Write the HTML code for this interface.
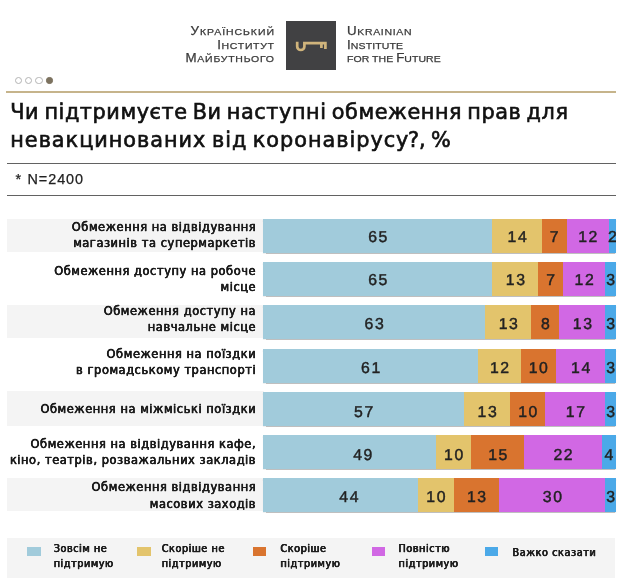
<!DOCTYPE html>
<html lang="uk"><head><meta charset="utf-8"><title>Чи підтримуєте Ви наступні обмеження прав для невакцинованих від коронавірусу?</title>
<style>
html,body{margin:0;padding:0;background:#fff;}
body{width:620px;height:578px;position:relative;overflow:hidden;font-family:"Liberation Sans","DejaVu Sans",sans-serif;color:#1a1a1a;}
.abs{position:absolute}
.logoL,.logoR{position:absolute;top:25.4px;font-family:"Liberation Sans",sans-serif;color:#3a3a3a;font-size:9.4px;line-height:13.55px;-webkit-text-stroke:0.25px #3a3a3a;white-space:nowrap}
.logoL{right:345.8px;text-align:right;transform:scaleX(1.12);transform-origin:100% 50%}
.logoR{left:346.6px;text-align:left;transform:scaleX(1.12);transform-origin:0 50%}
.logoL b,.logoR b{font-weight:400;font-size:11.9px}
.sq{position:absolute;left:286.1px;top:20.7px;width:49.5px;height:49px;background:#414143}
.dot{position:absolute;top:76.7px;width:5.5px;height:5.5px;border:1.2px solid #b4b4b4;border-radius:50%;background:#fff}
.dot.on{background:#7c725f;border-color:#7c725f;width:4.3px;height:4.3px;margin:0.6px}
.tan{position:absolute;left:6.3px;top:91px;width:609.9px;height:2px;background:#c6b48b}
h1{position:absolute;left:10.3px;top:97.5px;margin:0;font-family:"DejaVu Sans",sans-serif;font-weight:400;font-size:20.8px;line-height:28.4px;word-spacing:-2px;white-space:nowrap;color:#111;-webkit-text-stroke:0.65px #111}
.hr{position:absolute;left:6.5px;width:609.7px;height:1.2px;background:#626262}
.n{position:absolute;left:15.4px;top:170.6px;font-size:14.4px;line-height:16px;letter-spacing:0.95px;word-spacing:0.6px;color:#222;-webkit-text-stroke:0.25px #222;white-space:nowrap}
.row{position:absolute;left:6.5px;width:609.5px;height:34px}
.band{position:absolute;left:0;width:257px;background:#f4f4f4}
.lab{position:absolute;left:0;top:0;width:249.1px;height:34px;display:flex;align-items:center;justify-content:flex-end;text-align:right;font-family:"DejaVu Sans Condensed","DejaVu Sans",sans-serif;font-weight:400;font-size:12.7px;line-height:16.1px;letter-spacing:0.56px;white-space:nowrap;color:#1c1c1c;-webkit-text-stroke:0.28px #1c1c1c;text-shadow:0.25px 0 0 #1c1c1c,-0.25px 0 0 #1c1c1c}
.lab>div{position:relative;margin-right:-0.56px}
.bar{position:absolute;left:256.5px;top:0;width:353px;height:34px;display:flex;overflow:hidden;box-shadow:0 0.6px 0.8px rgba(0,0,0,0.25)}
.seg{height:100%;flex:none;display:flex;align-items:center;justify-content:center;overflow:visible}
.seg span{font-size:15.8px;letter-spacing:1.6px;margin-right:-1.6px;color:#222;position:relative;top:4.1px;white-space:nowrap;-webkit-text-stroke:0.45px #222;text-rendering:geometricPrecision}
.legend{position:absolute;left:6.5px;top:538px;width:608.7px;height:40px;background:#f4f4f4}
.sw{position:absolute;top:546.5px;width:13.5px;height:9.7px;margin-left:-0.3px}
.lt{position:absolute;top:542.1px;font-family:"DejaVu Sans Condensed","DejaVu Sans",sans-serif;font-weight:400;font-size:10.8px;line-height:14.5px;letter-spacing:0.55px;white-space:nowrap;color:#1c1c1c;-webkit-text-stroke:0.25px #1c1c1c;text-shadow:0.28px 0 0 #1c1c1c,-0.28px 0 0 #1c1c1c}
.lt.one{top:545.7px}
</style></head><body>
<div class="logoL"><div style="letter-spacing:0.84px;margin-right:-0.84px"><b>У</b>КРАЇНСЬКИЙ</div><div style="letter-spacing:0.61px;margin-right:-0.61px"><b>І</b>НСТИТУТ</div><div style="letter-spacing:0.66px;margin-right:-0.66px"><b>М</b>АЙБУТНЬОГО</div></div>
<div class="sq"><svg width="49.5" height="49" viewBox="0 0 49.5 49" style="position:absolute;left:0;top:0"><path d="M11.2 20.8 V25.4 A3.6 3.6 0 0 0 18.4 25.4 V22.1 H39.4 M39.4 20.8 V28 M35.4 22.1 V27" fill="none" stroke="#d0b47c" stroke-width="2.7"/></svg></div>
<div class="logoR"><div style="letter-spacing:0.59px"><b>U</b>KRAINIAN</div><div style="letter-spacing:0.12px"><b>I</b>NSTITUTE</div><div style="letter-spacing:0.04px">FOR THE <b>F</b>UTURE</div></div>
<div class="dot" style="left:14.6px"></div><div class="dot" style="left:24.8px"></div><div class="dot" style="left:35px"></div><div class="dot on" style="left:45.8px"></div>
<div class="tan"></div>
<h1><span style="letter-spacing:0.57px">Чи підтримуєте Ви наступні обмеження прав для</span><br><span style="letter-spacing:0.975px">невакцинованих від коронавірусу<span style="margin-left:-1.5px;letter-spacing:0.1px">?</span>,<span style="margin-left:-1.2px"> %</span></span></h1>
<div class="hr" style="top:162.7px"></div>
<div class="n">* N=2400</div>
<div class="hr" style="top:194.8px"></div>
<div class="row" style="top:218.6px"><div class="band" style="top:-0.1px;height:33.1px"></div><div class="lab"><div style="top:-0.5px">Обмеження на відвідування<br>магазинів та супермаркетів</div></div><div class="bar"><div class="seg" style="width:65%;background:#a1cbdb"><span style="top:2.1px">65</span></div><div class="seg" style="width:14%;background:#e3c46c"><span style="top:2.1px">14</span></div><div class="seg" style="width:7%;background:#d9742f"><span style="top:2.1px">7</span></div><div class="seg" style="width:12%;background:#d168e4"><span style="top:2.1px">12</span></div><div class="seg" style="width:2%;background:#4ba9e8"><span style="top:2.1px">2</span></div></div></div>
<div class="row" style="top:261.9px"><div class="lab"><div style="top:0px">Обмеження доступу на робоче<br>місце</div></div><div class="bar"><div class="seg" style="width:65%;background:#a1cbdb"><span style="top:2.1px">65</span></div><div class="seg" style="width:13%;background:#e3c46c"><span style="top:2.1px">13</span></div><div class="seg" style="width:7%;background:#d9742f"><span style="top:2.1px">7</span></div><div class="seg" style="width:12%;background:#d168e4"><span style="top:2.1px">12</span></div><div class="seg" style="width:3%;background:#4ba9e8"><span style="top:2.1px">3</span></div></div></div>
<div class="row" style="top:305.2px"><div class="band" style="top:-0.5px;height:33.3px"></div><div class="lab"><div style="top:-3.6px">Обмеження доступу на<br>навчальне місце</div></div><div class="bar"><div class="seg" style="width:63%;background:#a1cbdb"><span style="top:3.1px">63</span></div><div class="seg" style="width:13%;background:#e3c46c"><span style="top:3.1px">13</span></div><div class="seg" style="width:8%;background:#d9742f"><span style="top:3.1px">8</span></div><div class="seg" style="width:13%;background:#d168e4"><span style="top:3.1px">13</span></div><div class="seg" style="width:3%;background:#4ba9e8"><span style="top:3.1px">3</span></div></div></div>
<div class="row" style="top:348.5px"><div class="lab"><div style="top:-3.8px">Обмеження на поїздки<br>в громадському транспорті</div></div><div class="bar"><div class="seg" style="width:61%;background:#a1cbdb"><span style="top:3.1px">61</span></div><div class="seg" style="width:12%;background:#e3c46c"><span style="top:3.1px">12</span></div><div class="seg" style="width:10%;background:#d9742f"><span style="top:3.1px">10</span></div><div class="seg" style="width:14%;background:#d168e4"><span style="top:3.1px">14</span></div><div class="seg" style="width:3%;background:#4ba9e8"><span style="top:3.1px">3</span></div></div></div>
<div class="row" style="top:391.8px"><div class="band" style="top:-1.1px;height:35.2px"></div><div class="lab"><div style="top:0.2px">Обмеження на міжміські поїздки</div></div><div class="bar"><div class="seg" style="width:57%;background:#a1cbdb"><span style="top:4.1px">57</span></div><div class="seg" style="width:13%;background:#e3c46c"><span style="top:4.1px">13</span></div><div class="seg" style="width:10%;background:#d9742f"><span style="top:4.1px">10</span></div><div class="seg" style="width:17%;background:#d168e4"><span style="top:4.1px">17</span></div><div class="seg" style="width:3%;background:#4ba9e8"><span style="top:4.1px">3</span></div></div></div>
<div class="row" style="top:435.1px"><div class="lab"><div style="top:0px">Обмеження на відвідування кафе,<br>кіно, театрів, розважальних закладів</div></div><div class="bar"><div class="seg" style="width:49%;background:#a1cbdb"><span style="top:4.1px;left:13.3px">49</span></div><div class="seg" style="width:10%;background:#e3c46c"><span style="top:4.1px">10</span></div><div class="seg" style="width:15%;background:#d9742f"><span style="top:4.1px">15</span></div><div class="seg" style="width:22%;background:#d168e4"><span style="top:4.1px">22</span></div><div class="seg" style="width:4%;background:#4ba9e8"><span style="top:4.1px">4</span></div></div></div>
<div class="row" style="top:478.4px"><div class="band" style="top:-0.6px;height:33.6px"></div><div class="lab"><div style="top:0.2px">Обмеження відвідування<br>масових заходів</div></div><div class="bar"><div class="seg" style="width:44%;background:#a1cbdb"><span style="top:3.1px;left:8.3px">44</span></div><div class="seg" style="width:10%;background:#e3c46c"><span style="top:3.1px">10</span></div><div class="seg" style="width:13%;background:#d9742f"><span style="top:3.1px">13</span></div><div class="seg" style="width:30%;background:#d168e4"><span style="top:3.1px">30</span></div><div class="seg" style="width:3%;background:#4ba9e8"><span style="top:3.1px">3</span></div></div></div>
<div class="legend"></div>
<div class="sw" style="left:27.6px;background:#a1cbdb"></div><div class="lt" style="left:53.7px">Зовсім не<br>підтримую</div>
<div class="sw" style="left:137.6px;background:#e3c46c"></div><div class="lt" style="left:161.7px">Скоріше не<br>підтримую</div>
<div class="sw" style="left:253.0px;background:#d9742f"></div><div class="lt" style="left:280.4px">Скоріше<br>підтримую</div>
<div class="sw" style="left:372.1px;background:#d168e4"></div><div class="lt" style="left:398.5px">Повністю<br>підтримую</div>
<div class="sw" style="left:485.2px;background:#4ba9e8"></div><div class="lt one" style="left:512.6px">Важко сказати</div>

</body></html>
